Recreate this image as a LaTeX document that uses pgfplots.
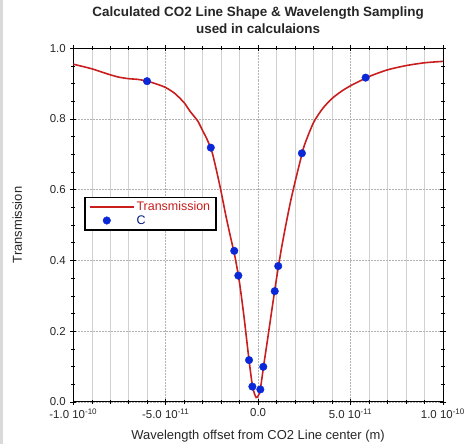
\documentclass[border=0pt]{standalone}
\usepackage{fontspec}
\setmainfont{Liberation Sans}
\usepackage{pgfplots}
\pgfplotsset{compat=1.18}
\definecolor{tred}{RGB}{200,30,30}
\definecolor{cblue}{RGB}{10,40,215}
\begin{document}
\begin{tikzpicture}
\useasboundingbox (-73.3bp,-42.2bp) rectangle (398.7bp,401.8bp);
\fill[black!15] (-73.3bp,-42.2bp) rectangle (-70.3bp,401.8bp);
\begin{axis}[
  at={(0,0)}, anchor=south west,
  scale only axis, width=369.6bp, height=353.5bp,
  xmin=-10, xmax=10, ymin=0, ymax=1,
  xtick={-10,-5,0,5,10},
  xticklabels={{-1.0 10\textsuperscript{-10}},{-5.0 10\textsuperscript{-11}},{0.0},{5.0 10\textsuperscript{-11}},{1.0 10\textsuperscript{-10}}},
  ytick={0,0.2,0.4,0.6,0.8,1.0},
  yticklabels={0.0,0.2,0.4,0.6,0.8,1.0},
  minor x tick num=4, minor y tick num=3,
  tick align=center,
  major tick length=6bp, minor tick length=4bp,
  tick style={black, line width=0.5pt},
  xmajorgrids, xminorgrids, ymajorgrids,
  major grid style={black!30, line width=0.5pt, densely dotted},
  minor grid style={black!18, line width=0.5pt},
  axis line style={black, line width=0.7pt},
  ticklabel style={font=\fontsize{11.5}{13}\selectfont, text=black!85},
  xticklabel style={yshift=-0.5bp},
  yticklabel style={xshift=-1bp},
  label style={font=\fontsize{13}{15}\selectfont, text=black!85},
  xlabel={Wavelength offset from CO2 Line center (m)},
  ylabel={Transmission},
  xlabel style={at={(axis description cs:0.5,-0.0968)}, anchor=center},
  ylabel style={at={(axis description cs:-0.1515,0.5)}, anchor=center},
  title={Calculated CO2 Line Shape \& Wavelength Sampling\\used in calculaions},
  title style={font=\bfseries\fontsize{13.5}{16.5}\selectfont, align=center, text=black!85,
    at={(axis description cs:0.5,1.062)}, anchor=center},
  legend style={at={(0.03,0.58)}, anchor=north west, draw=black, line width=1.3pt,
    font=\fontsize{12.5}{14}\selectfont, inner xsep=4pt, inner ysep=2.5pt, row sep=-1pt},
  legend image code/.code={\draw[line width=1.6pt, mark repeat=2,mark phase=2] plot coordinates {(0cm,0cm) (0.6cm,0cm) (1.55cm,0cm)};},
  legend cell align=left,
]
\addplot[tred, line width=1.6pt, smooth, tension=0.4] coordinates {
(-10,0.955) (-9,0.942) (-8,0.925) (-7.5,0.918) (-7,0.914) (-6.5,0.912) (-6,0.907)
(-5.5,0.899) (-5,0.889) (-4.5,0.872) (-4,0.846) (-3.7,0.823) (-3.5,0.810) (-3.25,0.793)
(-3,0.767) (-2.75,0.741) (-2.5,0.708) (-2.25,0.654) (-2,0.594) (-1.75,0.528) (-1.5,0.468)
(-1.25,0.410) (-1,0.335) (-0.75,0.235) (-0.5,0.122) (-0.3,0.043) (-0.1,0.012)
(0.1,0.030) (0.3,0.102) (0.5,0.172) (0.75,0.262) (1,0.350) (1.25,0.430) (1.5,0.500)
(1.75,0.565) (2,0.622) (2.25,0.675) (2.5,0.725) (3,0.790) (3.5,0.830) (4,0.858)
(4.5,0.878) (5,0.894) (6,0.920) (7,0.939) (8,0.951) (9,0.959) (10,0.963)
};
\addlegendentry{\textcolor{tred}{Transmission}}
\addplot[only marks, mark=*, mark size=3.8pt, mark options={fill=cblue, draw=cblue, line width=0.4pt}] coordinates {
(-6.01,0.907) (-2.56,0.719) (-1.29,0.427) (-1.07,0.357) (-0.49,0.118) (-0.31,0.043)
(0.12,0.035) (0.28,0.099) (0.90,0.313) (1.09,0.384) (2.37,0.703) (5.82,0.917)
};
\addlegendentry{\textcolor{cblue!60!black}{C}}
\end{axis}
\end{tikzpicture}
\end{document}
